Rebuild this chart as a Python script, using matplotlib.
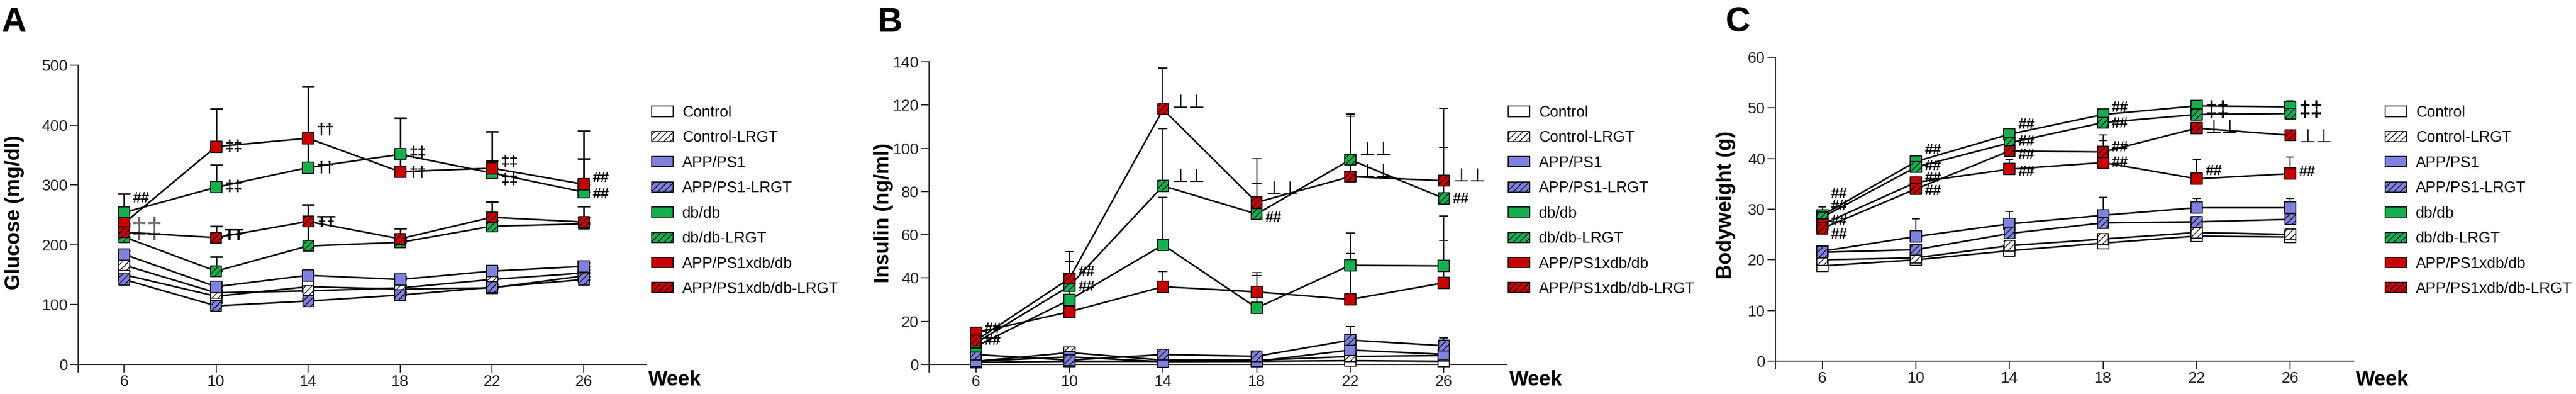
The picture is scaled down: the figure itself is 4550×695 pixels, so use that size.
import matplotlib
matplotlib.use("Agg")
import matplotlib.pyplot as plt
from matplotlib.patches import Patch

plt.rcParams['font.family'] = ['Liberation Sans', 'DejaVu Sans']
plt.rcParams['hatch.linewidth'] = 1.0

weeks = [6, 10, 14, 18, 22, 26]
groups = ['Control', 'Control-LRGT', 'APP/PS1', 'APP/PS1-LRGT',
          'db/db', 'db/db-LRGT', 'APP/PS1xdb/db', 'APP/PS1xdb/db-LRGT']

# glucose (mg/dl), one row per group
glucose_mean = [
    [150, 114, 130, 126, 128, 148],
    [166, 120, 123, 128, 142, 153],
    [184, 130, 149, 142, 156, 164],
    [142, 98, 106, 116, 129, 142],
    [254, 296, 329, 351, 320, 288],
    [213, 156, 198, 204, 231, 235],
    [236, 364, 378, 322, 328, 301],
    [221, 212, 239, 210, 246, 238],
]
glucose_err = [
    [6, 5, 5, 5, 5, 5],
    [6, 5, 5, 5, 5, 5],
    [6, 5, 6, 5, 6, 6],
    [5, 5, 5, 5, 5, 5],
    [31, 37, 45, 61, 20, 56],
    [8, 24, 35, 8, 10, 10],
    [10, 63, 86, 25, 61, 89],
    [10, 19, 28, 17, 26, 26],
]

# insulin (ng/ml)
insulin_mean = [
    [1.0, 1.5, 1.5, 1.5, 1.8, 1.5],
    [1.5, 5.5, 2.0, 2.0, 3.7, 4.2],
    [1.5, 3.5, 1.3, 1.5, 6.7, 4.7],
    [4.6, 2.0, 4.6, 3.8, 11.3, 8.7],
    [8.4, 29.9, 55.3, 26.2, 45.9, 45.6],
    [10.0, 36.3, 82.6, 69.6, 94.7, 76.8],
    [14.7, 24.4, 36.0, 33.6, 30.1, 37.8],
    [11.1, 39.8, 118.0, 75.0, 86.9, 85.0],
]
insulin_err = [
    [0.5, 0.5, 0.5, 0.5, 0.5, 0.5],
    [0.5, 1.0, 0.5, 0.5, 0.8, 0.8],
    [0.5, 1.0, 0.5, 0.5, 1.0, 1.0],
    [1.0, 0.5, 1.0, 1.0, 6.3, 3.7],
    [2.0, 11.5, 22.0, 15.0, 15.0, 23.1],
    [2.0, 11.4, 26.4, 14.1, 21.2, 23.6],
    [2.0, 5.0, 7.0, 9.0, 21.3, 19.7],
    [2.0, 12.5, 19.0, 20.2, 28.0, 33.5],
]

# body weight (g)
weight_mean = [
    [18.8, 20.0, 21.8, 23.3, 24.7, 24.5],
    [20.0, 20.4, 22.8, 24.1, 25.4, 25.0],
    [21.7, 24.6, 27.1, 28.8, 30.3, 30.3],
    [21.5, 22.0, 25.2, 27.3, 27.5, 28.0],
    [28.8, 39.4, 44.8, 48.7, 50.4, 50.2],
    [28.4, 38.3, 43.1, 47.1, 48.7, 48.9],
    [27.0, 35.3, 37.9, 39.2, 36.0, 37.0],
    [26.2, 34.0, 41.5, 41.3, 46.0, 44.6],
]
weight_err = [
    [0.5, 0.5, 0.5, 0.5, 0.5, 0.5],
    [0.5, 0.5, 0.5, 0.5, 0.5, 0.5],
    [0.8, 3.5, 2.4, 3.6, 1.8, 1.8],
    [1.1, 1.0, 1.0, 1.0, 1.0, 1.0],
    [1.0, 0.9, 0.8, 0.6, 0.6, 1.2],
    [2.0, 0.8, 0.8, 0.6, 0.8, 0.8],
    [1.0, 1.0, 2.0, 4.4, 3.8, 3.3],
    [1.0, 1.0, 1.0, 3.4, 1.0, 1.0],
]

# significance marks (week, value, symbol)
glucose_marks = [
    (6, 277, '##'),
    (10, 364, '‡‡'), (10, 296, '‡‡'), (10, 215, 'ŦŦ'),
    (14, 391, '††'), (14, 328, '††'), (14, 237, 'ŦŦ'),
    (18, 353, '‡‡'), (18, 320, '††'),
    (22, 338, '‡‡'), (22, 308, '‡‡'),
    (26, 312, '##'), (26, 284, '##'),
]
glucose_faint = [(6, 224, '‡‡')]
insulin_marks = [
    (6, 16.5, '##'), (6, 11.0, '##'),
    (10, 42.7, '##'), (10, 36.0, '##'),
    (14, 121, '⊥⊥'), (14, 86.6, '⊥⊥'),
    (18, 81, '⊥⊥'), (18, 68, '##'),
    (22, 99, '⊥⊥'), (22, 89, '⊥⊥'),
    (26, 87, '⊥⊥'), (26, 76.6, '##'),
]
weight_marks = [
    (6, 33.0, '##'), (6, 30.6, '##'), (6, 27.6, '##'), (6, 25.0, '##'),
    (10, 41.6, '##'), (10, 38.5, '##'), (10, 36.2, '##'), (10, 33.6, '##'),
    (14, 46.7, '##'), (14, 43.3, '##'), (14, 40.7, '##'), (14, 37.4, '##'),
    (18, 50.0, '##'), (18, 46.9, '##'), (18, 42.2, '##'), (18, 39.2, '##'),
    (22, 49.5, '‡‡'), (22, 46.0, '⊥⊥'), (22, 37.5, '##'),
    (26, 49.5, '‡‡'), (26, 44.2, '⊥⊥'), (26, 37.4, '##'),
]

faces = ['white', 'white', '#8080DE', '#8080DE', '#14B04E', '#14B04E', '#C80000', '#C80000']
hatches = [None, '///', None, '///', None, '///', None, '///']

W, H = 4550, 695
fig = plt.figure(figsize=(W / 100, H / 100), dpi=100)


def px_box(left, right, top, bottom):
    return [left / W, 1 - bottom / H, (right - left) / W, (bottom - top) / H]


def draw_panel(ax, means, errs, ymax, ystep, cap, elw, marks, dagger_size=20):
    for i in range(len(groups)):
        ax.errorbar(weeks, means[i], yerr=[[0] * len(weeks), errs[i]], fmt='none',
                    ecolor='black', elinewidth=elw, capsize=cap, capthick=elw, zorder=2)
        ax.plot(weeks, means[i], color='black', lw=2, zorder=3)
    for i in range(len(groups)):
        ax.scatter(weeks, means[i], marker='s', s=190, facecolor=faces[i],
                   edgecolor='black', linewidths=1.2, hatch=hatches[i],
                   zorder=4 + i, clip_on=False)
    for w, v, t in marks:
        if t == '##':
            fs, fw = 19, 'bold'
        elif t == '⊥⊥':
            fs, fw = 24, 'normal'
        else:
            fs, fw = dagger_size, 'bold'
        ax.annotate(t, (w, v), xytext=(11, 0), textcoords='offset points',
                    ha='left', va='center', fontsize=fs, fontweight=fw,
                    annotation_clip=False, zorder=20)
    ax.set_xlim(4, 28.7)
    ax.set_ylim(0, ymax)
    ax.set_xticks(weeks)
    ax.set_xticks([4], minor=True)
    ax.set_yticks(range(0, ymax + 1, ystep))
    for s in ['top', 'right']:
        ax.spines[s].set_visible(False)
    for s in ['left', 'bottom']:
        ax.spines[s].set_linewidth(1.5)
        ax.spines[s].set_color('#333333')
    ax.tick_params(length=10, width=1.5, pad=3, labelsize=20, colors='#333333', labelcolor='#222222')
    ax.tick_params(axis='x', which='minor', length=10, width=1.5, colors='#333333')
    ax.patch.set_alpha(0)


axA = fig.add_axes(px_box(138, 1141, 115, 643))
draw_panel(axA, glucose_mean, glucose_err, 500, 100, 8, 2.0, glucose_marks)
for w, v, t in glucose_faint:
    axA.annotate(t, (w, v), xytext=(9, 0), textcoords='offset points', ha='left',
                 va='center', fontsize=36, color='#666666', zorder=1)

axB = fig.add_axes(px_box(1641, 2662, 109, 643))
draw_panel(axB, insulin_mean, insulin_err, 140, 20, 6, 1.4, insulin_marks)

axC = fig.add_axes(px_box(3136, 4157, 101, 637))
draw_panel(axC, weight_mean, weight_err, 60, 10, 5, 1.4, weight_marks, dagger_size=27)

handles = [Patch(facecolor=faces[i], edgecolor='black', hatch=hatches[i], linewidth=1.2)
           for i in range(len(groups))]
for ax, lx in [(axA, 1151), (axB, 2664), (axC, 4213)]:
    ax.legend(handles, groups, loc='upper left', bbox_to_anchor=(lx / W, 1 - 186 / H),
              bbox_transform=fig.transFigure, frameon=False, fontsize=19.5,
              handlelength=1.4, handleheight=0.65, handletextpad=0.6,
              labelspacing=0.68, borderpad=0, borderaxespad=0)

# panel letters, y labels, "Week"
for x, letter in [(2, 'A'), (1550, 'B'), (3048, 'C')]:
    fig.text(x / W, 1 - 40 / H, letter, fontsize=44, fontweight='bold', ha='left', va='center')

fig.text(26 / W, 1 - 375 / H, 'Glucose (mg/dl)', rotation=90, fontsize=26,
         fontweight='bold', ha='center', va='center')
fig.text(1560 / W, 1 - 376 / H, 'Insulin (ng/ml)', rotation=90, fontsize=26,
         fontweight='bold', ha='center', va='center')
fig.text(3048 / W, 1 - 361 / H, 'Bodyweight (g)', rotation=90, fontsize=26,
         fontweight='bold', ha='center', va='center')

for x in [1145, 2666, 4161]:
    fig.text(x / W, 1 - 671 / H, 'Week', fontsize=26, fontweight='bold', ha='left', va='center')

fig.savefig('out.png', dpi=100)
